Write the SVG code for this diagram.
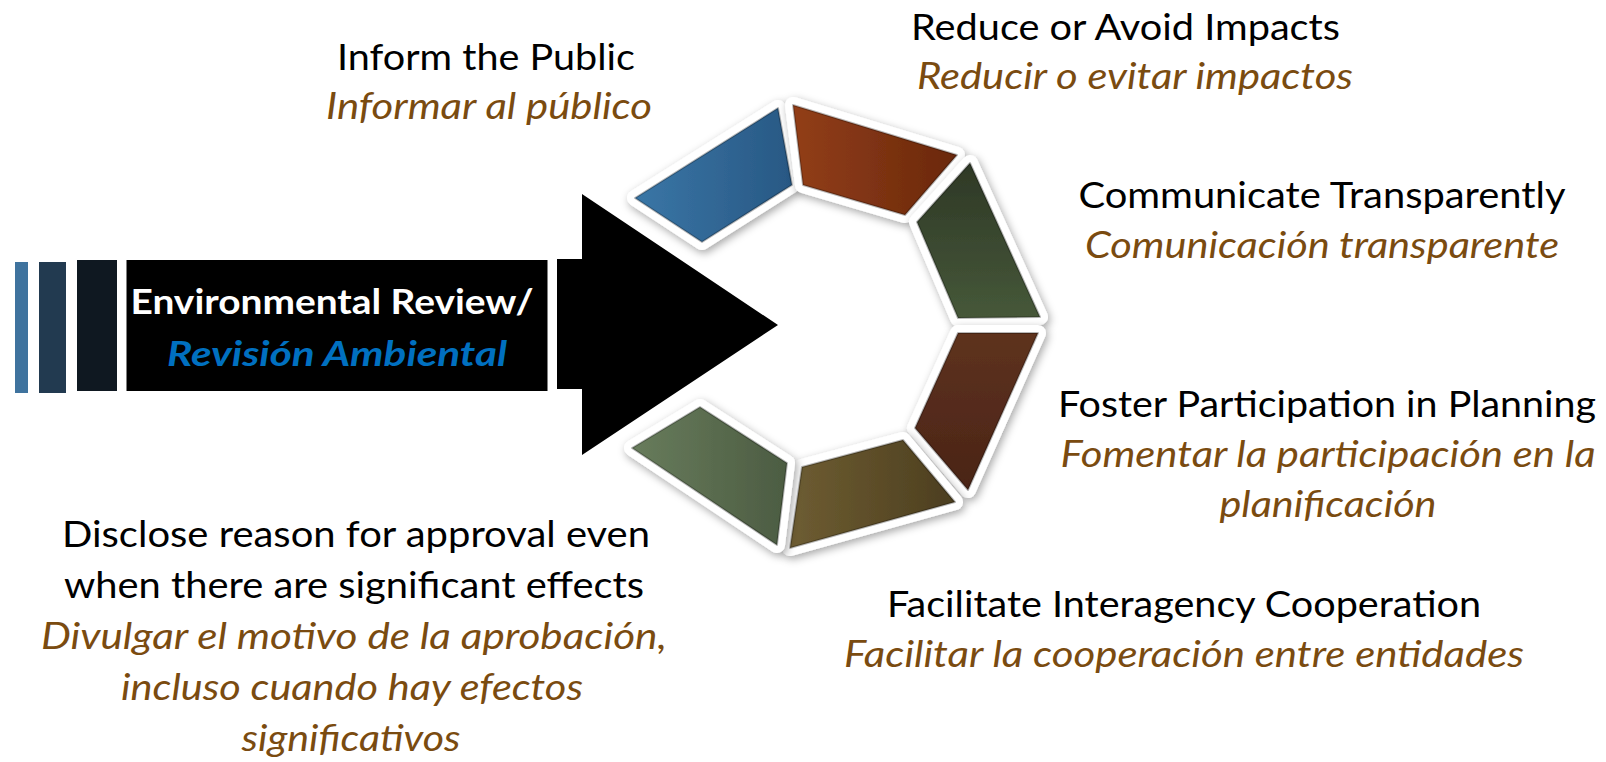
<svg xmlns="http://www.w3.org/2000/svg" width="1606" height="762" viewBox="0 0 1606 762">
<style>
text{font-family:Lato,"Open Sans","Liberation Sans",sans-serif;font-size:36px;text-anchor:middle}
.en{fill:#000}
.es{fill:#7a4b10;font-style:italic}
.title{fill:#fff;font-weight:bold;font-size:35px}
.titlees{fill:#0070c0;font-weight:bold;font-style:italic;font-size:35px}
.seg{stroke:#fff;stroke-width:16;stroke-linejoin:round;paint-order:stroke;filter:url(#sh)}
.edge{fill:none;stroke:rgba(0,0,0,0.28);stroke-width:2;stroke-linejoin:round}
</style>
<defs>
<filter id="sh" x="-30%" y="-30%" width="160%" height="160%">
<feDropShadow dx="2" dy="3" stdDeviation="4" flood-color="#000" flood-opacity="0.35"/>
</filter>
<linearGradient id="gBlue" x1="0" y1="0" x2="1" y2="0"><stop offset="0" stop-color="#3a76a6"/><stop offset="1" stop-color="#285884"/></linearGradient>
<linearGradient id="gOrange" x1="0" y1="0" x2="1" y2="0"><stop offset="0" stop-color="#923e18"/><stop offset="1" stop-color="#6a280c"/></linearGradient>
<linearGradient id="gDkGreen" x1="0" y1="0" x2="0" y2="1"><stop offset="0" stop-color="#2e3826"/><stop offset="1" stop-color="#465839"/></linearGradient>
<linearGradient id="gBrown" x1="0" y1="0" x2="0" y2="1"><stop offset="0" stop-color="#5e321f"/><stop offset="1" stop-color="#4a2416"/></linearGradient>
<linearGradient id="gOlive" x1="0" y1="0" x2="1" y2="0"><stop offset="0" stop-color="#6e5d32"/><stop offset="1" stop-color="#4c3e1f"/></linearGradient>
<linearGradient id="gGreen" x1="0" y1="0" x2="1" y2="0"><stop offset="0" stop-color="#687c5c"/><stop offset="1" stop-color="#4c5c42"/></linearGradient>
</defs>
<rect width="1606" height="762" fill="#fff"/>

<g id="bars">
<rect x="15" y="262" width="13" height="131" fill="#3f739e"/>
<rect x="39" y="262" width="27" height="131" fill="#223a50"/>
<rect x="77" y="260" width="40" height="131" fill="#0f1821"/>
</g>

<g id="title-box">
<rect x="126.5" y="260" width="421" height="131" fill="#000"/>
<text class="title" x="332" y="314" textLength="403" lengthAdjust="spacingAndGlyphs">Environmental Review/</text>
<text class="titlees" x="337" y="366" textLength="340" lengthAdjust="spacingAndGlyphs">Revisión Ambiental</text>
</g>

<g id="connectors">
<g id="arrow">
<polygon points="557,259 582,259 582,194 778,325 582,455 582,389 557,389" fill="#000"/>
</g>
</g>

<g id="seg-blue">
<polygon class="seg" fill="url(#gBlue)" points="635,198 778,108 792,185 702,242"/>
<polygon class="edge" points="635,198 778,108 792,185 702,242"/>
</g>
<g id="seg-orange">
<polygon class="seg" fill="url(#gOrange)" points="793,105 957,155 905,215 803,185"/>
<polygon class="edge" points="793,105 957,155 905,215 803,185"/>
</g>
<g id="seg-darkgreen">
<polygon class="seg" fill="url(#gDkGreen)" points="970,163 1040,317 958,318 917,222"/>
<polygon class="edge" points="970,163 1040,317 958,318 917,222"/>
</g>
<g id="seg-brown">
<polygon class="seg" fill="url(#gBrown)" points="958,333 1038,333 968,490 915,428"/>
<polygon class="edge" points="958,333 1038,333 968,490 915,428"/>
</g>
<g id="seg-olive">
<polygon class="seg" fill="url(#gOlive)" points="802,467 903,440 955,502 790,548"/>
<polygon class="edge" points="802,467 903,440 955,502 790,548"/>
</g>
<g id="seg-green">
<polygon class="seg" fill="url(#gGreen)" points="632,448 700,407 787,463 777,545"/>
<polygon class="edge" points="632,448 700,407 787,463 777,545"/>
</g>

<g id="label-inform">
<text class="en" x="486" y="70" textLength="298" lengthAdjust="spacingAndGlyphs">Inform the Public</text>
<text class="es" x="489" y="119" textLength="326" lengthAdjust="spacingAndGlyphs">Informar al público</text>
</g>
<g id="label-reduce">
<text class="en" x="1125.5" y="40" textLength="429" lengthAdjust="spacingAndGlyphs">Reduce or Avoid Impacts</text>
<text class="es" x="1135" y="89" textLength="436" lengthAdjust="spacingAndGlyphs">Reducir o evitar impactos</text>
</g>
<g id="label-communicate">
<text class="en" x="1322" y="208" textLength="487" lengthAdjust="spacingAndGlyphs">Communicate Transparently</text>
<text class="es" x="1322" y="258" textLength="474" lengthAdjust="spacingAndGlyphs">Comunicación transparente</text>
</g>
<g id="label-foster">
<text class="en" x="1327" y="417" textLength="538" lengthAdjust="spacingAndGlyphs">Foster Participation in Planning</text>
<text class="es" x="1328" y="467" textLength="535" lengthAdjust="spacingAndGlyphs">Fomentar la participación en la</text>
<text class="es" x="1328" y="517" textLength="217" lengthAdjust="spacingAndGlyphs">planificación</text>
</g>
<g id="label-facilitate">
<text class="en" x="1184" y="617" textLength="594" lengthAdjust="spacingAndGlyphs">Facilitate Interagency Cooperation</text>
<text class="es" x="1184" y="667" textLength="680" lengthAdjust="spacingAndGlyphs">Facilitar la cooperación entre entidades</text>
</g>
<g id="label-disclose">
<text class="en" x="356" y="547" textLength="588" lengthAdjust="spacingAndGlyphs">Disclose reason for approval even</text>
<text class="en" x="354" y="598" textLength="580" lengthAdjust="spacingAndGlyphs">when there are significant effects</text>
<text class="es" x="354" y="649" textLength="626" lengthAdjust="spacingAndGlyphs">Divulgar el motivo de la aprobación,</text>
<text class="es" x="352" y="700" textLength="462" lengthAdjust="spacingAndGlyphs">incluso cuando hay efectos</text>
<text class="es" x="351" y="751" textLength="219" lengthAdjust="spacingAndGlyphs">significativos</text>
</g>
</svg>
